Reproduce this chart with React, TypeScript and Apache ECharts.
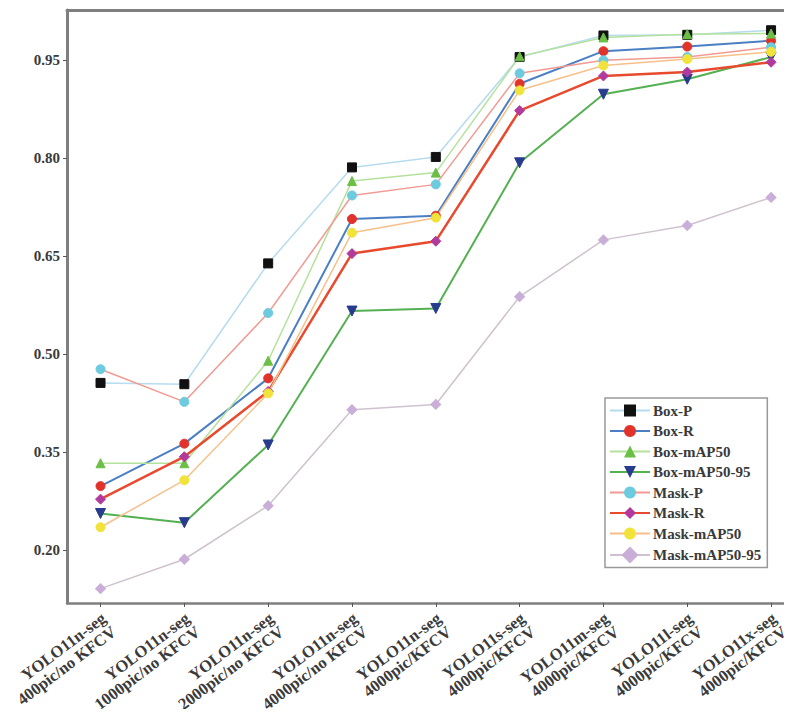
import React, { useEffect, useRef } from "react";
import * as echarts from "echarts";

const categories = [
  "YOLO11n-seg\n400pic/no KFCV",
  "YOLO11n-seg\n1000pic/no KFCV",
  "YOLO11n-seg\n2000pic/no KFCV",
  "YOLO11n-seg\n4000pic/no KFCV",
  "YOLO11n-seg\n4000pic/KFCV",
  "YOLO11s-seg\n4000pic/KFCV",
  "YOLO11m-seg\n4000pic/KFCV",
  "YOLO11l-seg\n4000pic/KFCV",
  "YOLO11x-seg\n4000pic/KFCV",
];

const yTicks = [0.2, 0.35, 0.5, 0.65, 0.8, 0.95];

const boxP = [0.456, 0.454, 0.639, 0.786, 0.802, 0.955, 0.988, 0.989, 0.996];
const boxR = [0.298, 0.363, 0.463, 0.707, 0.712, 0.914, 0.964, 0.971, 0.98];
const boxMAP50 = [0.333, 0.333, 0.49, 0.765, 0.778, 0.956, 0.985, 0.99, 0.991];
const boxMAP5095 = [0.256, 0.242, 0.361, 0.566, 0.57, 0.793, 0.898, 0.921, 0.955];
const maskP = [0.477, 0.427, 0.563, 0.743, 0.76, 0.93, 0.95, 0.955, 0.97];
const maskR = [0.278, 0.343, 0.443, 0.654, 0.673, 0.873, 0.926, 0.932, 0.947];
const maskMAP50 = [0.235, 0.307, 0.44, 0.686, 0.709, 0.904, 0.942, 0.952, 0.963];
const maskMAP5095 = [0.141, 0.186, 0.268, 0.415, 0.423, 0.588, 0.675, 0.697, 0.74];

const seriesDefs = [
  { name: "Box-P", data: boxP, line: "#b6dcee", lineWidth: 1.5, marker: "#111111", symbol: "rect", size: 9, rotate: 0 },
  { name: "Box-R", data: boxR, line: "#4b7fc4", lineWidth: 2, marker: "#e2332b", symbol: "circle", size: 9, rotate: 0 },
  { name: "Box-mAP50", data: boxMAP50, line: "#b4e29c", lineWidth: 1.5, marker: "#6cbf45", symbol: "triangle", size: 9, rotate: 0 },
  { name: "Box-mAP50-95", data: boxMAP5095, line: "#55b052", lineWidth: 2, marker: "#283c8e", symbol: "triangle", size: 10, rotate: 180 },
  { name: "Mask-P", data: maskP, line: "#f29a92", lineWidth: 1.5, marker: "#6ccbdf", symbol: "circle", size: 9, rotate: 0 },
  { name: "Mask-R", data: maskR, line: "#e84a2e", lineWidth: 2.5, marker: "#b23a9c", symbol: "diamond", size: 10, rotate: 0 },
  { name: "Mask-mAP50", data: maskMAP50, line: "#f7c08a", lineWidth: 1.5, marker: "#f2e33a", symbol: "circle", size: 9, rotate: 0 },
  { name: "Mask-mAP50-95", data: maskMAP5095, line: "#cfc2cf", lineWidth: 1.5, marker: "#c9aed8", symbol: "rect", size: 7, rotate: 45 },
];

const FONT = "'Liberation Serif', 'Times New Roman', serif";

// x range of the plot, in category units
const X_MIN = -0.4;
const X_MAX = 8.19;
// label anchor shift to the right (category units)
const LABEL_SHIFT = 0.1;

export default function App() {
  const ref = useRef<HTMLDivElement>(null);

  useEffect(() => {
    if (!ref.current) return;
    const chart = echarts.init(ref.current, undefined, { renderer: "svg" });
    const axisGrey = "#7f7f7f";
    const idx = categories.map((_, i) => i);
    chart.setOption({
      animation: false,
      backgroundColor: "#ffffff",
      grid: { left: 67, top: 10, right: 5, bottom: 114, containLabel: false, outerBoundsMode: "none" },
      xAxis: [
        {
          type: "value",
          min: X_MIN,
          max: X_MAX,
          axisLine: { show: true, onZero: false, lineStyle: { color: axisGrey, width: 2.5 } },
          axisTick: { show: true, customValues: idx, length: 4, lineStyle: { color: "#555", width: 1 } },
          axisLabel: { show: false },
          splitLine: { show: false },
        },
        {
          type: "value",
          position: "top",
          min: X_MIN,
          max: X_MAX,
          axisLine: { show: true, onZero: false, lineStyle: { color: axisGrey, width: 3 } },
          axisTick: { show: false },
          axisLabel: { show: false },
          splitLine: { show: false },
        },
        {
          type: "value",
          position: "bottom",
          min: X_MIN - LABEL_SHIFT,
          max: X_MAX - LABEL_SHIFT,
          axisLine: { show: false, onZero: false },
          axisTick: { show: false },
          axisLabel: {
            show: true,
            customValues: idx,
            formatter: (v: number) => categories[Math.round(v)] ?? "",
            rotate: 37,
            margin: 20,
            fontFamily: FONT,
            fontSize: 16.5,
            fontWeight: "bold",
            color: "#3a3a3a",
            lineHeight: 17,
          },
          splitLine: { show: false },
        },
      ],
      yAxis: [
        {
          type: "value",
          min: 0.119,
          max: 1.027,
          axisLine: { show: true, onZero: false, lineStyle: { color: axisGrey, width: 3 } },
          axisTick: { show: true, customValues: yTicks, length: 4, lineStyle: { color: "#555", width: 1 } },
          axisLabel: {
            show: true,
            customValues: yTicks,
            formatter: (v: number) => v.toFixed(2),
            margin: 7,
            fontFamily: FONT,
            fontSize: 15,
            fontWeight: "bold",
            color: "#3a3a3a",
          },
          splitLine: { show: false },
        },
        {
          type: "value",
          position: "right",
          min: 0.119,
          max: 1.027,
          axisLine: { show: true, onZero: false, lineStyle: { color: "#e4edf2", width: 1.5 } },
          axisTick: { show: false },
          axisLabel: { show: false },
          splitLine: { show: false },
        },
      ],
      legend: {
        orient: "vertical",
        left: 605,
        top: 398,
        width: 165,
        padding: [5, 6, 4, 4],
        itemGap: 5.5,
        itemWidth: 40,
        itemHeight: 15,
        borderColor: "#999",
        borderWidth: 1.5,
        backgroundColor: "#ffffff",
        textStyle: { fontFamily: FONT, fontSize: 15, fontWeight: "bold", color: "#3a3a3a", padding: [0, 0, 0, -2] },
        data: seriesDefs.map((s) => s.name),
      },
      series: seriesDefs.map((s) => ({
        name: s.name,
        type: "line",
        xAxisIndex: 0,
        yAxisIndex: 0,
        data: s.data.map((v, i) => [i, v]),
        symbol: s.symbol,
        symbolSize: s.size,
        symbolRotate: s.rotate,
        showAllSymbol: true,
        lineStyle: { color: s.line, width: s.lineWidth },
        itemStyle: { color: s.marker, borderColor: s.marker },
        emphasis: { disabled: true },
      })),
    });
    return () => chart.dispose();
  }, []);

  return <div ref={ref} style={{ width: 792, height: 717, margin: -8 }} />;
}
